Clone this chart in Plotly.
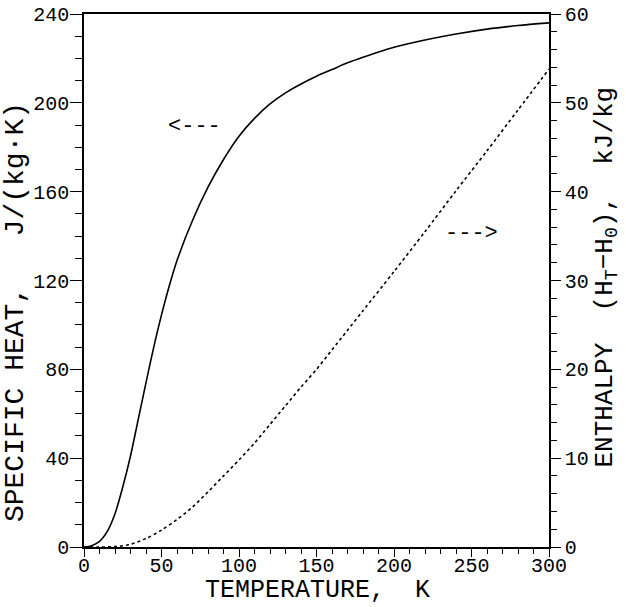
import plotly.graph_objects as go

# Specific heat (left axis), J/(kg K)
temp_cp = [0, 5, 10, 15, 20, 25, 30, 35, 40, 45, 50, 55, 60, 70, 80, 90, 100, 110, 120,
           130, 140, 150, 160, 170, 180, 200, 220, 240, 260, 280, 300]
cp_vals = [0, 0.6, 2.5, 7, 15, 27, 41, 57.5, 74, 90, 104.5, 117.5, 129, 147, 162, 174.5, 185, 193, 199.5,
           204.5, 208.5, 212, 215, 218, 220.5, 225, 228.3, 231, 233.2, 234.8, 236]

# Enthalpy (right axis), kJ/kg
temp_h = [0, 10, 20, 30, 40, 50, 60, 70, 80, 90, 100, 110, 120, 130, 140, 150, 160, 170,
          180, 200, 220, 240, 260, 280, 300]
h_vals = [0, 0.0, 0.05, 0.3, 0.95, 1.9, 3.1, 4.5, 6.2, 8.0, 9.8, 11.7, 13.8, 15.9, 18.0,
          20.0, 22.2, 24.4, 26.6, 31.0, 35.5, 40.1, 44.6, 49.2, 53.8]

x_title = "TEMPERATURE,  K"
y_title = "SPECIFIC HEAT,   J/(kg\u00b7K)"
y2_title = "ENTHALPY  (H<sub>T</sub>\u2212H<sub>0</sub>),  kJ/kg"

FONT = "Liberation Mono"

fig = go.Figure()
fig.add_trace(go.Scatter(x=temp_cp, y=cp_vals, mode="lines",
                         line=dict(color="black", width=1.6, shape="spline", smoothing=0.8),
                         showlegend=False, yaxis="y"))
fig.add_trace(go.Scatter(x=temp_h, y=h_vals, mode="lines",
                         line=dict(color="black", width=1.6, dash="dot", shape="spline", smoothing=0.8),
                         showlegend=False, yaxis="y2"))

fig.add_annotation(x=71.5, y=189.5, xref="x", yref="y", text="<---", showarrow=False,
                   font=dict(family=FONT, size=22, color="black"))
fig.add_annotation(x=250, y=35.3, xref="x", yref="y2", text="--->", showarrow=False,
                   font=dict(family=FONT, size=22, color="black"))

# axis titles
fig.add_annotation(x=0.503, y=-0.081, xref="paper", yref="paper", text=x_title, showarrow=False,
                   xanchor="center", yanchor="middle", font=dict(family=FONT, size=25, color="black"))
fig.add_annotation(x=-0.146, y=0.441, xref="paper", yref="paper", text=y_title, showarrow=False,
                   textangle=-90, xanchor="center", yanchor="middle",
                   font=dict(family=FONT, size=28, color="black"))
fig.add_annotation(x=1.122, y=0.507, xref="paper", yref="paper", text=y2_title, showarrow=False,
                   textangle=-90, xanchor="center", yanchor="middle",
                   font=dict(family=FONT, size=26, color="black"))

tickfont = dict(family=FONT, size=20, color="black")

common = dict(ticks="outside", tickwidth=1.3, tickcolor="black", showline=True,
              linecolor="black", linewidth=1.6, showgrid=False, zeroline=False,
              tickfont=tickfont, automargin=False)

fig.update_layout(
    width=626, height=607,
    margin=dict(l=84, r=77, t=14, b=60),
    paper_bgcolor="white", plot_bgcolor="white",
    xaxis=dict(range=[0, 300], dtick=50, tick0=0, mirror=True, ticklen=8, ticklabelstandoff=-9,
               minor=dict(dtick=10, ticks="outside", ticklen=5, tickcolor="black", tickwidth=1.3, showgrid=False),
               **common),
    yaxis=dict(range=[0, 240], dtick=40, tick0=0, ticklen=12, ticklabelstandoff=-3,
               minor=dict(dtick=10, ticks="outside", ticklen=7, tickcolor="black", tickwidth=1.3, showgrid=False),
               **common),
    yaxis2=dict(range=[0, 60], dtick=10, tick0=0, overlaying="y", side="right", ticklen=10,
                minor=dict(dtick=2, ticks="outside", ticklen=6, tickcolor="black", tickwidth=1.3, showgrid=False),
                **common),
)

fig.write_html("out.html", post_script="document.body.style.margin='0px';",
               config={"displayModeBar": False})
